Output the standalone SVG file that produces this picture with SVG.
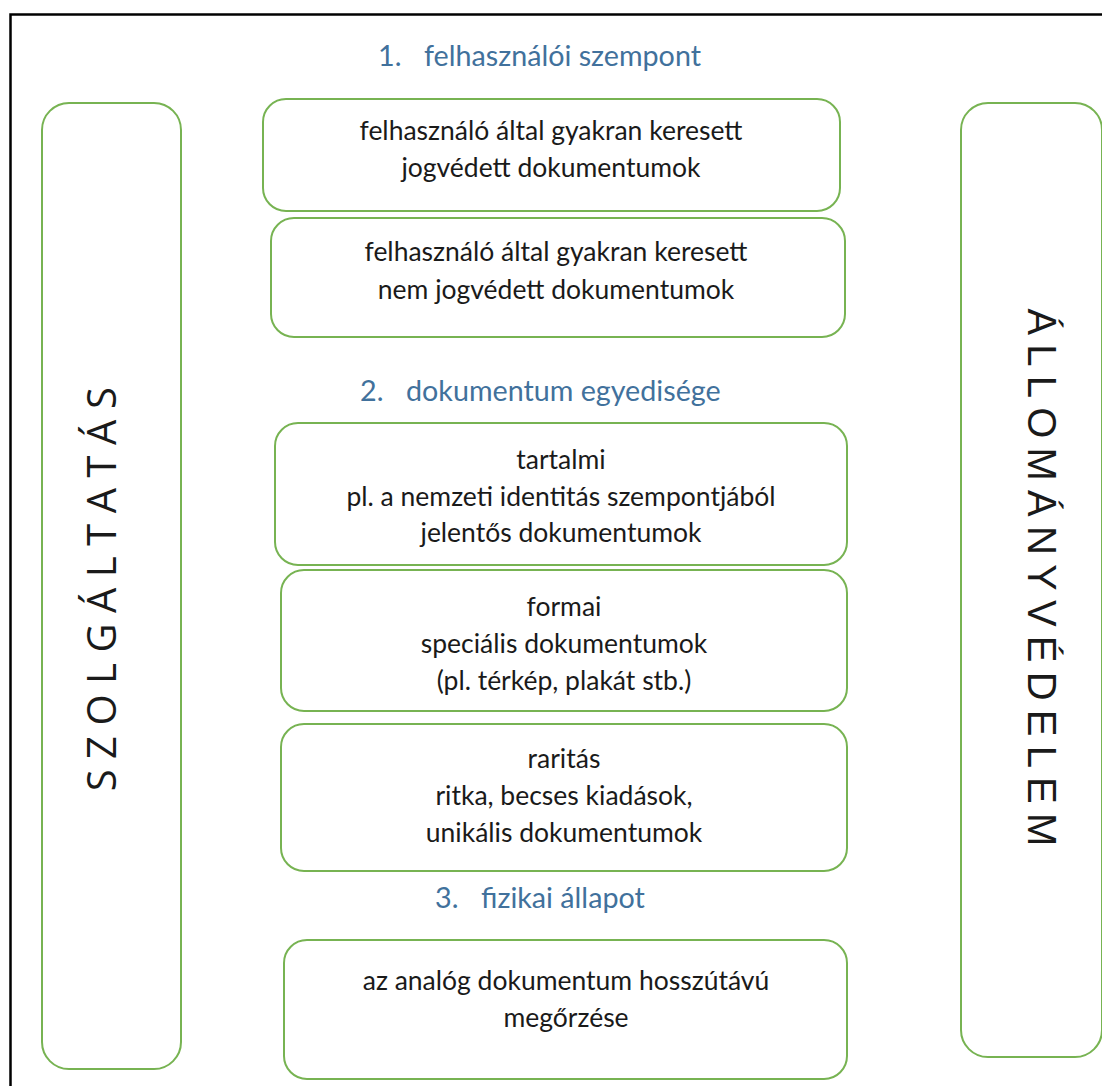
<svg xmlns="http://www.w3.org/2000/svg" width="1102" height="1086" viewBox="0 0 1102 1086">
<style>
.box{fill:#fff;stroke:#77b352;stroke-width:2}
.t{font-family:Lato,"Open Sans",sans-serif;font-size:26.5px;fill:#1a1a1a;text-anchor:middle}
.h{font-family:Lato,"Open Sans",sans-serif;font-size:28.7px;fill:#41719c}
.vl{font-family:"Open Sans",sans-serif;font-size:40px;fill:#1a1a1a;letter-spacing:10.5px;text-anchor:middle}
.vr{font-family:"Liberation Sans",Arial,sans-serif;font-size:40px;fill:#1a1a1a;letter-spacing:9.2px;text-anchor:middle}
</style>
<rect width="1102" height="1086" fill="#fff"/>
<path d="M10.5,1086 V14.5 H1102" fill="none" stroke="#000" stroke-width="2.5"/>
<g id="connectors"/>
<g id="szolgaltatas">
<rect class="box" x="42" y="103" width="139" height="966" rx="27"/>
<text class="vl" transform="translate(116,584) rotate(-90)">SZOLGÁLTATÁS</text>
</g>
<g id="allomanyvedelem">
<rect class="box" x="961" y="103" width="141" height="954" rx="27"/>
<text class="vr" transform="translate(1028,582) rotate(90)">ÁLLOMÁNYVÉDELEM</text>
</g>
<g id="h1"><text class="h" y="66"><tspan x="378">1.</tspan><tspan x="424">felhasználói szempont</tspan></text></g>
<g id="b1">
<rect class="box" x="263" y="99" width="577" height="112" rx="23"/>
<text class="t" x="551" y="140">felhasználó által gyakran keresett</text>
<text class="t" x="551" y="177">jogvédett dokumentumok</text>
</g>
<g id="b2">
<rect class="box" x="271" y="218" width="574" height="119" rx="23"/>
<text class="t" x="556" y="261">felhasználó által gyakran keresett</text>
<text class="t" x="556" y="299">nem jogvédett dokumentumok</text>
</g>
<g id="h2"><text class="h" y="401"><tspan x="360">2.</tspan><tspan x="406">dokumentum egyedisége</tspan></text></g>
<g id="b3">
<rect class="box" x="275" y="423" width="572" height="142" rx="23"/>
<text class="t" x="561" y="469">tartalmi</text>
<text class="t" x="561" y="506">pl. a nemzeti identitás szempontjából</text>
<text class="t" x="561" y="542">jelentős dokumentumok</text>
</g>
<g id="b4">
<rect class="box" x="281" y="570" width="566" height="141" rx="23"/>
<text class="t" x="564" y="616">formai</text>
<text class="t" x="564" y="653">speciális dokumentumok</text>
<text class="t" x="564" y="690">(pl. térkép, plakát stb.)</text>
</g>
<g id="b5">
<rect class="box" x="281" y="724" width="566" height="147" rx="23"/>
<text class="t" x="564" y="768">raritás</text>
<text class="t" x="564" y="805">ritka, becses kiadások,</text>
<text class="t" x="564" y="842">unikális dokumentumok</text>
</g>
<g id="h3"><text class="h" y="908"><tspan x="435">3.</tspan><tspan x="481">fizikai állapot</tspan></text></g>
<g id="b6">
<rect class="box" x="284" y="940" width="563" height="139" rx="23"/>
<text class="t" x="566" y="990">az analóg dokumentum hosszútávú</text>
<text class="t" x="566" y="1027">megőrzése</text>
</g>
</svg>
